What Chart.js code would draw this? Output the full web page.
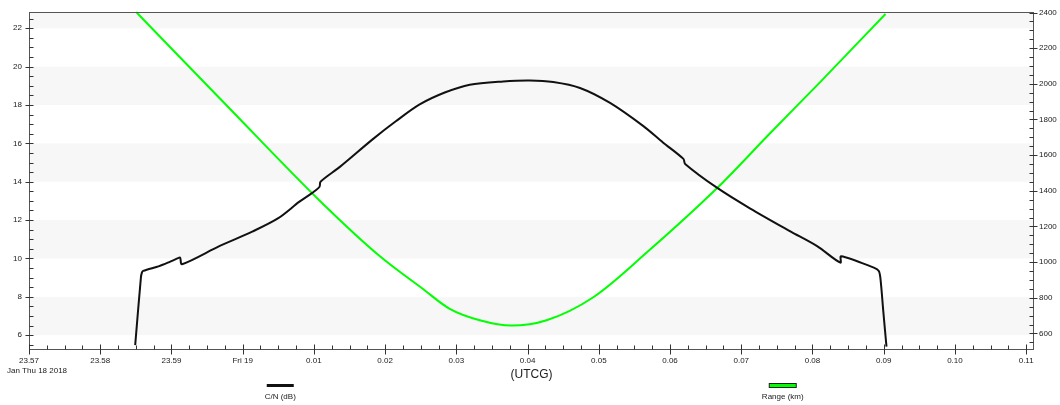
<!DOCTYPE html>
<html>
<head>
<meta charset="utf-8">
<script src="https://cdn.jsdelivr.net/npm/chart.js@4.4.1/dist/chart.umd.min.js"></script>
<style>
  html, body { margin: 0; padding: 0; background: #fff; }
</style>
</head>
<body>
<canvas id="chart" width="1060" height="405"></canvas>
<script>
// time is in minutes from midnight (negative = Jan 18)
const cnTime   = [-1.509, -1.429, -1.415, -1.397, -1.172, -1.031, -0.890, -0.876, -0.852, -0.328, 0.141, 0.500, 0.797, 0.985, 1.079, 1.093, 1.360, 1.828, 2.150, 2.485, 2.837, 3.188, 3.657, 4.032, 4.360, 4.736, 5.158, 5.626, 5.900, 6.188, 6.212, 6.658, 7.127, 7.689, 8.065, 8.392, 8.402, 8.861, 8.931, 8.955, 8.993, 9.039];
const cnValues = [5.48, 9.0, 9.26, 9.35, 9.6, 9.81, 10.04, 10.02, 9.70, 10.64, 11.41, 12.1, 12.96, 13.44, 13.74, 14.0, 14.76, 16.22, 17.15, 18.03, 18.65, 19.06, 19.23, 19.28, 19.2, 18.89, 18.11, 16.9, 16.05, 15.19, 14.93, 13.69, 12.6, 11.41, 10.64, 9.78, 10.12, 9.52, 9.35, 8.92, 7.29, 5.4];

const rangeTime   = [-1.499, -0.187, 1.103, 1.923, 2.532, 2.907, 3.329, 3.775, 4.267, 4.923, 5.696, 6.658, 7.408, 8.111, 9.025];
const rangeValues = [2404, 1863, 1336, 1034, 849, 738, 674, 644, 674, 803, 1062, 1414, 1724, 2011, 2392];

const xTicks = [-3, -2, -1, 0, 1, 2, 3, 4, 5, 6, 7, 8, 9, 10, 11];
const xTickLabels = ['23.57', '23.58', '23.59', 'Fri 19', '0.01', '0.02', '0.03', '0.04', '0.05', '0.06', '0.07', '0.08', '0.09', '0.10', '0.11'];
const dateLabel = 'Jan Thu 18 2018';
const cnTicks = [6, 8, 10, 12, 14, 16, 18, 20, 22];
const rangeTicks = [600, 800, 1000, 1200, 1400, 1600, 1800, 2000, 2200, 2400];
const bandRanges = [[6, 8], [10, 12], [14, 16], [18, 20], [22, 24]];

const FONT = '"Liberation Sans", Arial, sans-serif';
const TXT = '#1a1a1a';

const pts = (xs, ys) => xs.map((x, i) => ({ x: x, y: ys[i] }));

const minorTicks = (min, max, step, majors) => {
  const out = [];
  for (let v = Math.ceil(min / step) * step; v <= max + 1e-9; v += step) {
    if (!majors.some(m => Math.abs(m - v) < 1e-6)) out.push(v);
  }
  return out;
};

const framePlugin = {
  id: 'frame',
  beforeDatasetsDraw(chart) {
    const { ctx, chartArea: a, scales } = chart;
    ctx.save();
    ctx.fillStyle = '#f7f7f7';
    bandRanges.forEach(([lo, hi]) => {
      const top = Math.max(scales.yL.getPixelForValue(hi), a.top);
      const bot = Math.min(scales.yL.getPixelForValue(lo), a.bottom);
      if (bot > top) ctx.fillRect(a.left, top, a.right - a.left, bot - top);
    });
    ctx.restore();
  },
  afterDatasetsDraw(chart) {
    const { ctx, chartArea: a, scales } = chart;
    const L = Math.round(a.left) + 0.5, R = Math.round(a.right) - 0.5;
    const T = Math.round(a.top) + 0.5, B = Math.round(a.bottom) - 0.5;
    ctx.save();
    ctx.strokeStyle = '#555';
    ctx.lineWidth = 1;
    ctx.strokeRect(L, T, R - L, B - T);
    ctx.strokeStyle = '#333';
    ctx.beginPath();
    // x axis
    xTicks.forEach(v => {
      const p = Math.round(scales.x.getPixelForValue(v)) + 0.5;
      ctx.moveTo(p, B - 5); ctx.lineTo(p, B + 5);
    });
    minorTicks(scales.x.min, scales.x.max, 0.25, xTicks).forEach(v => {
      const p = Math.round(scales.x.getPixelForValue(v)) + 0.5;
      ctx.moveTo(p, B - 4); ctx.lineTo(p, B);
    });
    // left axis
    cnTicks.forEach(v => {
      const p = Math.round(scales.yL.getPixelForValue(v)) + 0.5;
      ctx.moveTo(L - 4, p); ctx.lineTo(L + 4, p);
    });
    minorTicks(scales.yL.min, scales.yL.max, 0.5, cnTicks).forEach(v => {
      const p = Math.round(scales.yL.getPixelForValue(v)) + 0.5;
      ctx.moveTo(L, p); ctx.lineTo(L + 4, p);
    });
    // right axis
    rangeTicks.forEach(v => {
      const p = Math.round(scales.yR.getPixelForValue(v)) + 0.5;
      ctx.moveTo(R - 4, p); ctx.lineTo(R + 4, p);
    });
    minorTicks(scales.yR.min, scales.yR.max, 50, rangeTicks).forEach(v => {
      const p = Math.round(scales.yR.getPixelForValue(v)) + 0.5;
      ctx.moveTo(R - 4, p); ctx.lineTo(R, p);
    });
    ctx.stroke();
    ctx.restore();
  },
  afterDraw(chart) {
    const { ctx, chartArea: a } = chart;
    ctx.save();
    ctx.font = '8px ' + FONT;
    ctx.textBaseline = 'middle';
    ctx.fillStyle = TXT;
    // date under the first time label
    ctx.textAlign = 'left';
    ctx.fillText(dateLabel, a.left - 22, 371);
    // legend: two entries spaced at 1/4 and 3/4 of the plot width
    const spots = [0.25, 0.75];
    ctx.textAlign = 'center';
    chart.data.datasets.forEach((ds, i) => {
      const cx = a.left + (a.right - a.left) * spots[i];
      ctx.fillStyle = ds.borderColor;
      if (i === 0) {
        ctx.fillRect(cx - 13.5, 384, 27, 3);
      } else {
        ctx.fillRect(cx - 13.5, 384, 27, 3.5);
        ctx.strokeStyle = '#222';
        ctx.lineWidth = 1;
        ctx.strokeRect(cx - 13.5, 383.5, 27, 4);
      }
      ctx.fillStyle = TXT;
      ctx.fillText(ds.label, cx, 396.5);
    });
    ctx.restore();
  }
};

new Chart(document.getElementById('chart'), {
  type: 'line',
  data: {
    datasets: [
      {
        label: 'C/N (dB)',
        data: pts(cnTime, cnValues),
        borderColor: '#111',
        borderWidth: 2,
        pointRadius: 0,
        tension: 0.3,
        yAxisID: 'yL'
      },
      {
        label: 'Range (km)',
        data: pts(rangeTime, rangeValues),
        borderColor: '#00ff00',
        borderWidth: 2,
        pointRadius: 0,
        cubicInterpolationMode: 'monotone',
        yAxisID: 'yR'
      }
    ]
  },
  options: {
    responsive: false,
    devicePixelRatio: 1,
    animation: false,
    layout: { padding: { top: 8, left: 0, right: 0, bottom: 0 } },
    plugins: { legend: { display: false }, tooltip: { enabled: false } },
    scales: {
      x: {
        type: 'linear',
        min: -3,
        max: 11.11,
        afterBuildTicks: s => { s.ticks = xTicks.map(v => ({ value: v })); },
        afterFit: s => { s.height = 55; s.paddingLeft = 0; s.paddingRight = 0; },
        grid: { drawOnChartArea: false, drawTicks: false },
        border: { display: false },
        ticks: {
          autoSkip: false,
          maxRotation: 0,
          padding: 6,
          color: TXT,
          font: { family: FONT, size: 8 },
          callback: v => xTickLabels[xTicks.indexOf(v)]
        },
        title: {
          display: true,
          text: '(UTCG)',
          color: '#222',
          font: { family: FONT, size: 12 },
          padding: { top: 0, bottom: 23 }
        }
      },
      yL: {
        type: 'linear',
        position: 'left',
        min: 5.226,
        max: 22.86,
        afterBuildTicks: s => { s.ticks = cnTicks.map(v => ({ value: v })); },
        afterFit: s => { s.width = 29; },
        grid: { drawOnChartArea: false, drawTicks: false },
        border: { display: false },
        ticks: { padding: 7, color: TXT, font: { family: FONT, size: 8 }, callback: v => String(v) }
      },
      yR: {
        type: 'linear',
        position: 'right',
        min: 507,
        max: 2404,
        afterBuildTicks: s => { s.ticks = rangeTicks.map(v => ({ value: v })); },
        afterFit: s => { s.width = 26; },
        grid: { drawOnChartArea: false, drawTicks: false },
        border: { display: false },
        ticks: { padding: 5, color: TXT, font: { family: FONT, size: 8 }, callback: v => String(v) }
      }
    }
  },
  plugins: [framePlugin]
});
</script>
</body>
</html>
